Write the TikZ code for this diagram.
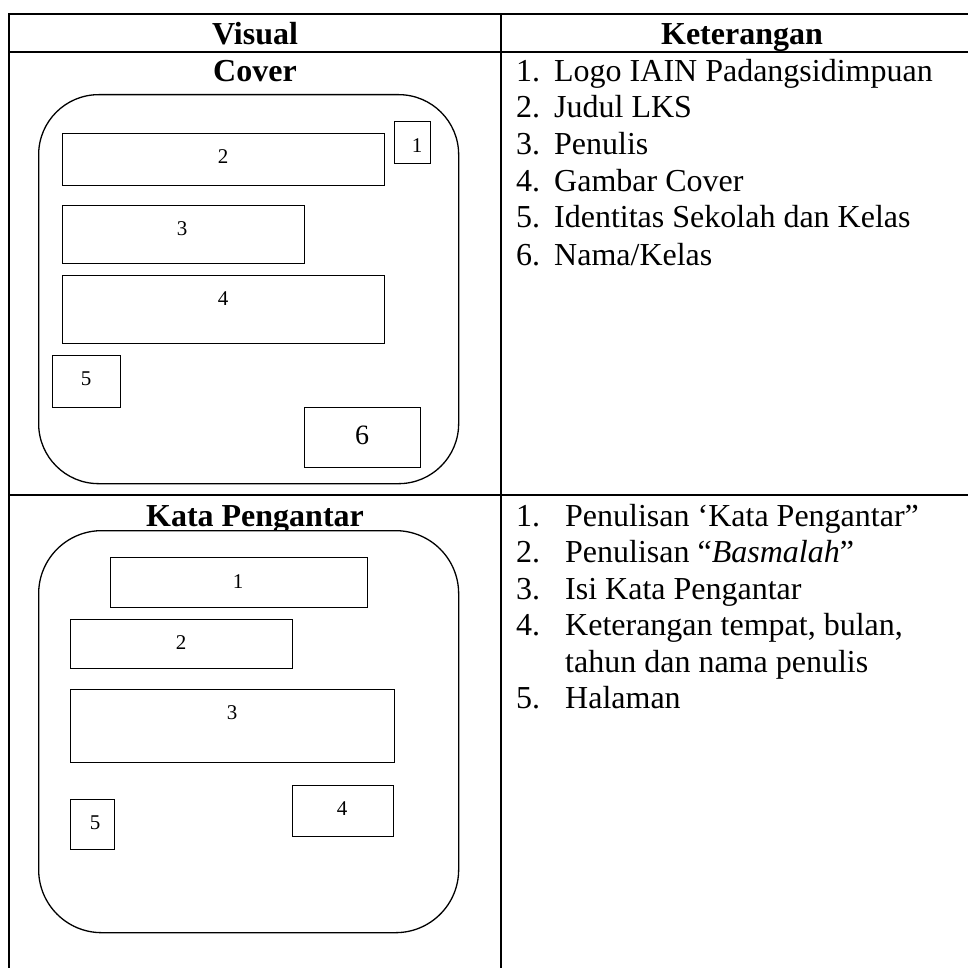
\documentclass[tikz,border=0pt]{standalone}
\usepackage{fontspec}
\setmainfont{Liberation Serif}
\begin{document}
\begin{tikzpicture}[x=1pt,y=-1pt,
  tline/.style={line width=2pt},
  page/.style={draw,line width=1.3pt,fill=white,inner sep=0pt,anchor=north west},
  part/.style={draw,line width=1.4pt,inner sep=0pt,anchor=north west},
  num/.style={font=\fontsize{21}{21}\selectfont,inner sep=0pt},
  bignum/.style={font=\fontsize{28}{28}\selectfont,inner sep=0pt},
  head/.style={font=\fontsize{32}{36}\selectfont\bfseries,inner sep=0pt,anchor=base},
  item/.style={font=\fontsize{32}{36}\selectfont,inner sep=0pt,anchor=base west}]
\useasboundingbox (0,0) rectangle (968,968);
% table rules
\draw[tline] (9,968) -- (9,14) -- (968,14);
\draw[tline] (9,52) -- (968,52);
\draw[tline] (9,495) -- (968,495);
\draw[tline] (501,14) -- (501,968);
% headers
\node[head] (hv) at (255,45) {Visual};
\node[head] (hk) at (742,45) {Keterangan};
% ---------- Cover ----------
\node[head] (tcov) at (255,82) {Cover};
\node[page,rounded corners=60pt,minimum width=420pt,minimum height=389pt] (cov) at (38,94) {};
\node[part,minimum width=36pt,minimum height=42pt] (c1) at (394,121) {};
\node[part,minimum width=322pt,minimum height=52pt] (c2) at (62,133) {};
\node[part,minimum width=242pt,minimum height=58pt] (c3) at (62,205) {};
\node[part,minimum width=322pt,minimum height=68pt] (c4) at (62,275) {};
\node[part,minimum width=68pt,minimum height=52pt] (c5) at (52,355) {};
\node[part,minimum width=116pt,minimum height=60pt] (c6) at (304,407) {};
\node[num] (l1) at (417,146) {1};
\node[num] (l2) at (223,157) {2};
\node[num] (l3) at (182,229) {3};
\node[num] (l4) at (223,299) {4};
\node[num] (l5) at (86,379) {5};
\node[bignum] (l6) at (362,435) {6};
% ---------- Kata Pengantar ----------
\node[head] (tkp) at (255,526) {Kata Pengantar};
\node[page,rounded corners=63pt,minimum width=420pt,minimum height=402pt] (kp) at (38,530) {};
\node[part,minimum width=257pt,minimum height=50pt] (k1) at (110,557) {};
\node[part,minimum width=222pt,minimum height=49pt] (k2) at (70,619) {};
\node[part,minimum width=324pt,minimum height=73pt] (k3) at (70,689) {};
\node[part,minimum width=101pt,minimum height=51pt] (k4) at (292,785) {};
\node[part,minimum width=44pt,minimum height=50pt] (k5) at (70,799) {};
\node[num] (m1) at (238,582) {1};
\node[num] (m2) at (181,643) {2};
\node[num] (m3) at (232,713) {3};
\node[num] (m4) at (342,809) {4};
\node[num] (m5) at (95,823) {5};
% ---------- right column ----------
\node[item] (a1) at (516,82)  {\makebox[38pt][l]{1.}Logo IAIN Padangsidimpuan};
\node[item] (a2) at (516,118) {\makebox[38pt][l]{2.}Judul LKS};
\node[item] (a3) at (516,155) {\makebox[38pt][l]{3.}Penulis};
\node[item] (a4) at (516,192) {\makebox[38pt][l]{4.}Gambar Cover};
\node[item] (a5) at (516,228) {\makebox[38pt][l]{5.}Identitas Sekolah dan Kelas};
\node[item] (a6) at (516,265) {\makebox[38pt][l]{6.}Nama/Kelas};
\node[item] (b1) at (516,526) {\makebox[49pt][l]{1.}Penulisan ‘Kata Pengantar”};
\node[item] (b2) at (516,562) {\makebox[49pt][l]{2.}Penulisan “\textit{Basmalah}”};
\node[item] (b3) at (516,599) {\makebox[49pt][l]{3.}Isi Kata Pengantar};
\node[item] (b4) at (516,635) {\makebox[49pt][l]{4.}Keterangan tempat, bulan,};
\node[item] (b4b) at (565,672) {tahun dan nama penulis};
\node[item] (b5) at (516,708) {\makebox[49pt][l]{5.}Halaman};
\end{tikzpicture}
\end{document}
